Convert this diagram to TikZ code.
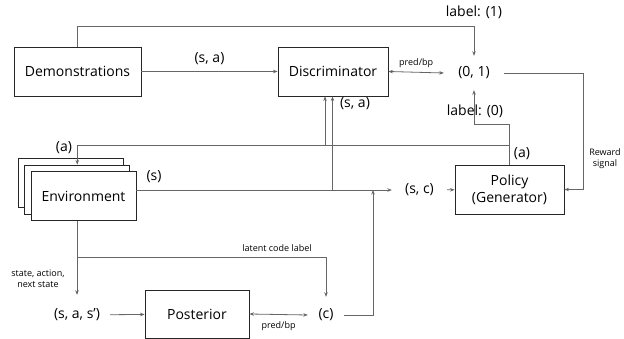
\documentclass[tikz,border=0pt]{standalone}
\usepackage{fontspec}
\setmainfont{Open Sans}
\usetikzlibrary{positioning,arrows.meta}
\tikzset{main node/.style={rectangle,draw=black!85,line width=0.9pt,fill=white,inner sep=0pt,align=center,font=\fontsize{14}{17}\selectfont} }
\tikzset{txt node/.style={inner sep=0pt,font=\fontsize{14}{17}\selectfont} }
\tikzset{small node/.style={inner sep=1pt,align=center,font=\fontsize{9}{11}\selectfont} }
\tikzset{flow/.style={draw=black!60,line width=0.8pt} }

\begin{document}
\begin{tikzpicture}[x=1pt,y=-1pt,>={Stealth[length=4.5pt,width=3.5pt]}]
\useasboundingbox (0,0) rectangle (624,339);

  % boxes
  \node[main node,minimum width=127pt,minimum height=49pt] (demo) at (77.5,71.5) {Demonstrations};
  \node[main node,minimum width=110pt,minimum height=49pt] (disc) at (333,71.5) {Discriminator};
  \node[main node,minimum width=109pt,minimum height=49pt] (pol) at (509.5,189.5) {Policy\\(Generator)};
  \node[main node,minimum width=105pt,minimum height=49pt] (env3) at (71,183) {};
  \node[main node,minimum width=105pt,minimum height=49pt] (env2) at (77.25,189.5) {};
  \node[main node,minimum width=105pt,minimum height=49pt] (env) at (83.5,196) {Environment};
  \node[main node,minimum width=104pt,minimum height=48pt] (post) at (197,314) {Posterior};

  % values
  \node[txt node,minimum width=60pt,minimum height=34pt] (zo) at (474,73) {(0, 1)};
  \node[txt node,minimum width=55pt,minimum height=20pt] (sc) at (419.5,190) {(s, c)};
  \node[txt node,minimum width=36pt,minimum height=36pt] (cc) at (326,315) {(c)};
  \node[txt node,minimum width=66pt,minimum height=40pt] (sas) at (77,315) {(s, a, s')};

  % junctions
  \coordinate (aj) at (509.5,145);
  \coordinate (da) at (325,145);
  \coordinate (ds) at (332.5,190);
  \coordinate (lc) at (77,257);
  \coordinate (cs) at (373,190);
  \coordinate (rw) at (583,73);

  \path[flow]
    (demo) edge [->] node[txt node,above=6pt] {(s, a)} (disc)
    (disc.east) edge [<->] node[small node,above=3pt] {pred/bp} (zo.west)
    (post.east) edge [<->] node[small node,below=6pt] {pred/bp} (cc.west)
    (sas) edge [->] (post)
    (sc) edge [->] (pol)
    (da) edge [->] (da |- disc.south)
    (ds) edge [->] (ds |- disc.south)
    (env.south -| sas.north) edge [->] (sas.north)
    ;

  \draw[flow,->] (demo.north) -- ++(0,-20) -| (zo.north);
  \draw[flow,->] (zo.east) -- (rw) |- (pol.east);
  \draw[flow,->] (pol.north) -- ++(0,-40) -| (zo.south);
  \draw[flow,->] (aj) -| (env2.north);
  \draw[flow,->] (env.east |- sc.west) -- (sc.west);
  \draw[flow,->] (lc) -| (cc.north);
  \draw[flow,->] (cc.east) -| (cs);

  % labels
  \node[txt node] at (474,12) {label: (1)};
  \node[txt node] at (475,111) {label: (0)};
  \node[txt node] at (355,104) {(s, a)};
  \node[txt node] at (64,148) {(a)};
  \node[txt node] at (522,154) {(a)};
  \node[txt node] at (154,177) {(s)};
  \node[small node] at (277,248) {latent code label};
  \node[small node] at (38,279) {state, action,\\next state};
  \node[small node] at (605,159) {Reward\\signal};
\end{tikzpicture}
\end{document}
